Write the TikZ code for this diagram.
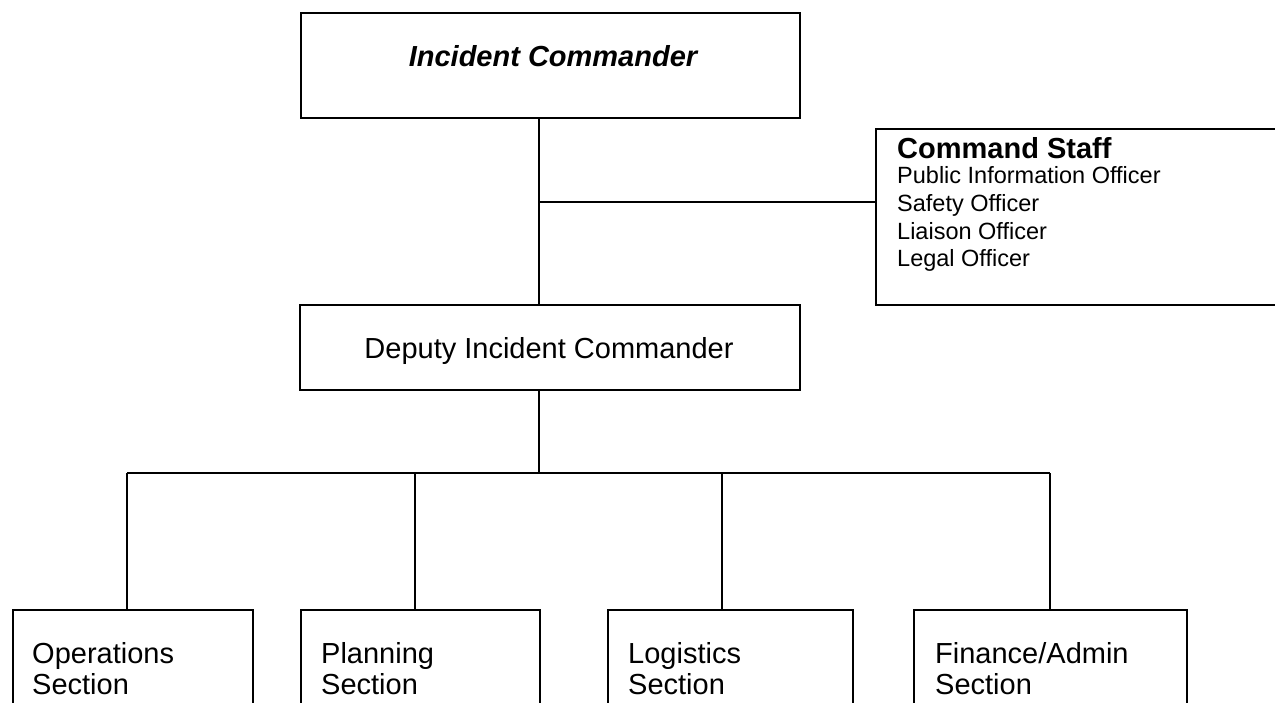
\documentclass[tikz,border=0pt]{standalone}
\usepackage{fontspec}
\setmainfont{Liberation Sans}
\begin{document}
\begin{tikzpicture}[x=1pt,y=-1pt,
  box/.style={draw, line width=1.8pt, rectangle, inner sep=0pt, anchor=north west},
  wire/.style={line width=1.8pt},
  bigtext/.style={font=\fontsize{29}{32}\selectfont, inner sep=0pt},
  smalltext/.style={font=\fontsize{23.5}{27.6}\selectfont, inner sep=0pt, align=left, anchor=north west},
  sectext/.style={font=\fontsize{29}{31.5}\selectfont, inner sep=0pt, align=left, anchor=north west}]
\useasboundingbox (0,0) rectangle (1275,702);
\clip (0,0) rectangle (1275,702);

% boxes
\node[box, minimum width=499pt, minimum height=105pt] (ic) at (300,12) {};
\node[box, minimum width=500pt, minimum height=85pt] (dic) at (299,304) {};
\node[box, minimum width=420pt, minimum height=176pt] (cs) at (875,128) {};
\node[box, minimum width=240pt, minimum height=120pt] (ops) at (12,609) {};
\node[box, minimum width=239pt, minimum height=120pt] (plan) at (300,609) {};
\node[box, minimum width=245pt, minimum height=120pt] (log) at (607,609) {};
\node[box, minimum width=273pt, minimum height=120pt] (fin) at (913,609) {};

% texts
\node[bigtext, anchor=base, font=\fontsize{29}{32}\selectfont\bfseries\itshape] (ict) at (553,66) {Incident Commander};
\node[bigtext, anchor=base] (dict) at (549,358) {Deputy Incident Commander};
\node[smalltext] (cst) at (897,137) {{\fontsize{29}{32}\selectfont\bfseries Command Staff}\\[-2pt]
  Public Information Officer\\Safety Officer\\Liaison Officer\\Legal Officer};
\node[sectext] (opst) at (32,642) {Operations\\Section};
\node[sectext] (plant) at (321,642) {Planning\\Section};
\node[sectext] (logt) at (628,642) {Logistics\\Section};
\node[sectext] (fint) at (935,642) {Finance/Admin\\Section};

% connector junctions
\coordinate (spine) at (539,0);
\coordinate (tee) at (539,202);
\coordinate (j1) at (127,473);
\coordinate (j2) at (415,473);
\coordinate (j3) at (722,473);
\coordinate (j4) at (1050,473);

% connectors
\draw[wire] (ic.south -| spine) -- (dic.north -| spine);
\draw[wire] (tee) -- (tee -| cs.west);
\draw[wire] (dic.south -| spine) -- (spine |- j1);
\draw[wire] (j1) -- (j4);
\draw[wire] (j1) -- (j1 |- ops.north);
\draw[wire] (j2) -- (j2 |- plan.north);
\draw[wire] (j3) -- (j3 |- log.north);
\draw[wire] (j4) -- (j4 |- fin.north);
\end{tikzpicture}
\end{document}
